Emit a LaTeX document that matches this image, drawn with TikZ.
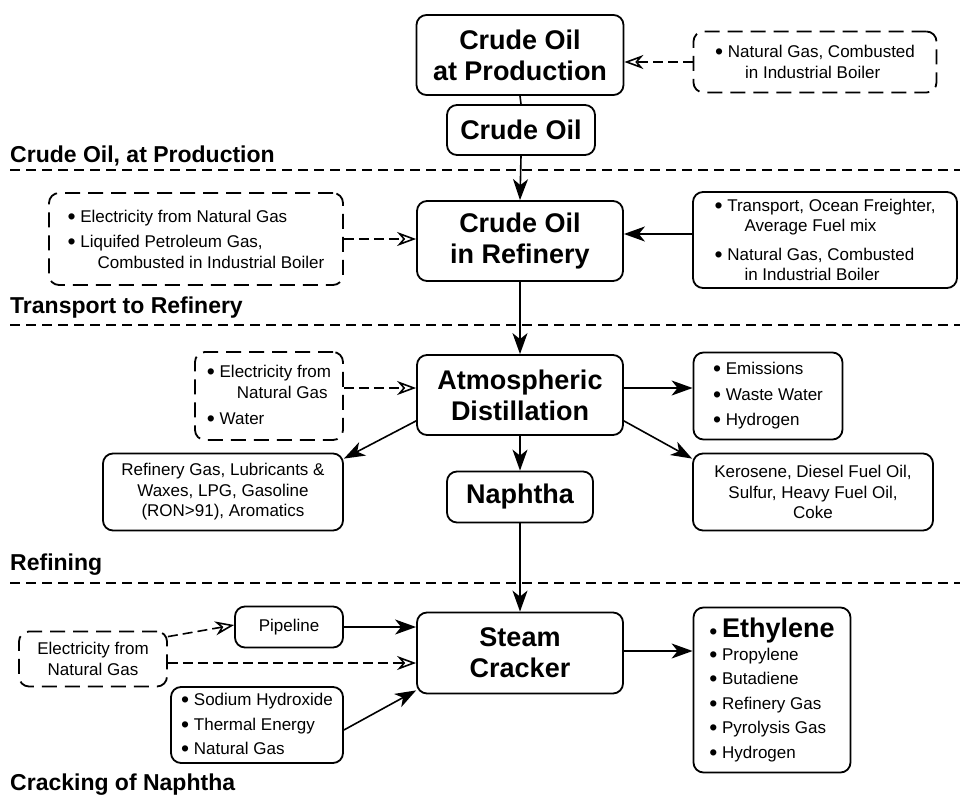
\documentclass[tikz,border=0pt]{standalone}
\usepackage{fontspec}
\setmainfont{Liberation Sans}
\usetikzlibrary{arrows.meta}

\newcommand{\bul}{\raisebox{-2pt}{\scalebox{1.35}{\textbullet}}\ }
\newcommand{\cont}{\hspace*{30pt}}

\tikzset{
    proc/.style={draw, line width=1.8pt, rounded corners=10pt, align=center,
        inner sep=0pt, font=\bfseries\fontsize{27}{31}\selectfont},
    info/.style={draw, line width=1.8pt, rounded corners=10pt, align=left,
        inner sep=0pt, font=\fontsize{17}{20.5}\selectfont},
    infoc/.style={info, align=center},
    aux/.style={info, dash pattern=on 15pt off 8pt},
    auxc/.style={aux, align=center},
    stage/.style={anchor=base west, inner sep=0pt,
        font=\bfseries\fontsize{23}{27}\selectfont},
    sep/.style={line width=2.6pt, dash pattern=on 10pt off 6pt},
    flow/.style={line width=1.6pt, -{Stealth[length=21pt,width=15pt,inset=6pt]}},
    feed/.style={line width=1.6pt, dash pattern=on 10pt off 5pt,
        -{Stealth[open,length=19pt,width=14pt,inset=6pt]}},
}

\begin{document}
\begin{tikzpicture}[x=1pt, y=-1pt]
    \useasboundingbox (0,0) rectangle (960,797);

    % stage separators
    \foreach \y in {170,325,583}
        \draw[sep] (10,\y) -- (960,\y);

    \node[stage] (s1) at (10,162) {Crude Oil, at Production};
    \node[stage] (s2) at (10,313) {Transport to Refinery};
    \node[stage] (s3) at (10,570) {Refining};
    \node[stage] (s4) at (10,790) {Cracking of Naphtha};

    % main column
    \node[proc, minimum width=207pt, minimum height=80pt] (prod) at (520,55)
        {Crude Oil\\at Production};
    \node[proc, minimum width=148pt, minimum height=50pt] (crude) at (521,130)
        {Crude Oil};
    \node[proc, minimum width=206pt, minimum height=80pt] (refin) at (520,241)
        {Crude Oil\\in Refinery};
    \node[proc, minimum width=206pt, minimum height=80pt] (atm) at (520,395)
        {Atmospheric\\Distillation};
    \node[proc, minimum width=146pt, minimum height=51pt] (naph) at (520,497)
        {Naphtha};
    \node[proc, minimum width=206pt, minimum height=81pt] (steam) at (520,653)
        {Steam\\Cracker};

    % inputs and outputs
    \node[aux, minimum width=243pt, minimum height=61pt] (ngprod) at (815,62)
        {\bul Natural Gas, Combusted\\\cont in Industrial Boiler};
    \node[aux, minimum width=294pt, minimum height=92pt] (elecref) at (196,239)
        {\bul Electricity from Natural Gas\\[5pt]\bul Liquifed Petroleum Gas,\\\cont Combusted in Industrial Boiler};
    \node[info, minimum width=264pt, minimum height=96pt] (transp) at (825,240)
        {\bul Transport, Ocean Freighter,\\\cont Average Fuel mix\\[8pt]\bul Natural Gas, Combusted\\\cont in Industrial Boiler};
    \node[aux, minimum width=148pt, minimum height=88pt] (elecdist) at (269,396)
        {\bul Electricity from\\\cont Natural Gas\\[6pt]\bul Water};
    \node[info, minimum width=149pt, minimum height=87pt] (emis) at (768,396)
        {\bul Emissions\\[5pt]\bul Waste Water\\[5pt]\bul Hydrogen};
    \node[infoc, minimum width=240pt, minimum height=77pt] (kero) at (813,492)
        {Kerosene, Diesel Fuel Oil,\\Sulfur, Heavy Fuel Oil,\\Coke};
    \node[infoc, minimum width=240pt, minimum height=77pt] (refgas) at (223,492)
        {Refinery Gas, Lubricants \&\\Waxes, LPG, Gasoline\\(RON>91), Aromatics};
    \node[infoc, minimum width=108pt, minimum height=41pt] (pipe) at (289,627)
        {Pipeline};
    \node[auxc, minimum width=148pt, minimum height=55pt] (eleccrack) at (93,659)
        {Electricity from\\Natural Gas};
    \node[info, minimum width=172pt, minimum height=76pt] (sodium) at (257,725)
        {\bul Sodium Hydroxide\\[4pt]\bul Thermal Energy\\[4pt]\bul Natural Gas};
    \node[info, minimum width=157pt, minimum height=165pt] (prods) at (772,690)
        {\bul{\bfseries\fontsize{27}{27}\selectfont Ethylene}\\[2pt]\bul Propylene\\[4pt]\bul Butadiene\\[4pt]\bul Refinery Gas\\[4pt]\bul Pyrolysis Gas\\[4pt]\bul Hydrogen};

    % connectors
    \draw[feed] (ngprod.west) -- (ngprod.west -| prod.east);
    \draw[line width=1.6pt] (prod.south) -- (crude.north);
    \draw[flow] (crude.south) -- (refin.north);
    \draw[feed] (elecref.east) -- (elecref.east -| refin.west);
    \draw[flow] ([yshift=6pt]transp.west) -- ([yshift=6pt]transp.west -| refin.east);
    \draw[flow] (refin.south) -- (atm.north);
    \draw[feed] ([yshift=8pt]elecdist.east) -- ([yshift=8pt]elecdist.east -| atm.west);
    \draw[flow] ([yshift=7pt]atm.east) -- ([yshift=7pt]atm.east -| emis.west);
    \draw[flow] ([yshift=15pt]atm.south east) -- ([yshift=-6pt]kero.north west);
    \draw[flow] ([yshift=15pt]atm.south west) -- ([yshift=-6pt]refgas.north east);
    \draw[flow] (atm.south) -- (naph.north);
    \draw[flow] (naph.south) -- (steam.north);
    \draw[flow] ([yshift=2pt]steam.east) -- ([yshift=2pt]steam.east -| prods.west);
    \draw[flow] (pipe.east) -- (pipe.east -| steam.west);
    \draw[feed] ([yshift=-4pt]eleccrack.east) -- ([yshift=-4pt]eleccrack.east -| steam.west);
    \draw[feed] ([yshift=-6pt]eleccrack.north east) -- ([yshift=2pt]pipe.west);
    \draw[flow] ([yshift=-5pt]sodium.east) -- ([yshift=4pt]steam.south west);
\end{tikzpicture}
\end{document}
